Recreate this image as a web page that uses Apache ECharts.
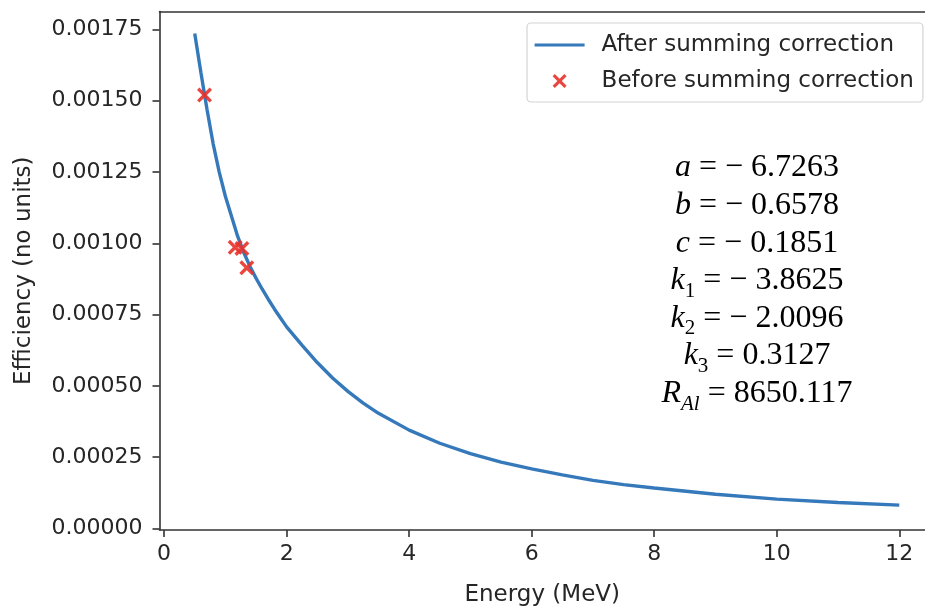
<!DOCTYPE html>
<html><head><meta charset="utf-8">
<script src="https://cdn.jsdelivr.net/npm/echarts@6/dist/echarts.min.js"></script>
<style>html,body{margin:0;padding:0;background:#fff}#c{width:925px;height:612px}</style>
</head><body><div id="c"></div>
<script>
// Fitted curve (after summing correction)
const fitEnergy = [0.5,0.6,0.7,0.8,0.9,1.0,1.1,1.2,1.3,1.4,1.5,1.6,1.7,1.8,1.9,2.0,2.25,2.5,2.75,3.0,3.25,3.5,4.0,4.5,5.0,5.5,6.0,6.5,7.0,7.5,8.0,9.0,10.0,11.0,12.0];
const fitEfficiency = [0.001736,0.001600,0.001470,0.001350,0.001250,0.001165,0.001095,0.001025,0.000968,0.000920,0.000878,0.000840,0.000804,0.000770,0.000738,0.000707,0.000643,0.000582,0.000528,0.000481,0.000440,0.000404,0.000345,0.000299,0.000263,0.000233,0.000209,0.000188,0.000169,0.000154,0.000142,0.000120,0.000103,0.000091,0.000082];
// Measured points (before summing correction)
const measEnergy = [0.66,1.16,1.27,1.35];
const measEfficiency = [0.00152,0.000986,0.000982,0.000914];
// Ticks
const xTicks = [0,2,4,6,8,10,12];
const yTicks = [0,0.00025,0.0005,0.00075,0.001,0.00125,0.0015,0.00175];
// Fit parameters text
const paramLines = [
  '{v|a}{n| = − 6.7263}',
  '{v|b}{n| = − 0.6578}',
  '{v|c}{n| = − 0.1851}',
  '{v|k}{s|1}{n| = − 3.8625}',
  '{v|k}{s|2}{n| = − 2.0096}',
  '{v|k}{s|3}{n| = 0.3127}',
  '{v|R}{si|Al}{n| = 8650.117}'
];
const seriesNames = ['After summing correction','Before summing correction'];

const chart = echarts.init(document.getElementById('c'), null, {renderer:'canvas'});
const fontSans = 'DejaVu Sans';
const axisColor = '#333';
const textColor = '#262626';
const lineColor = '#3579bb';
const crossPath = 'path://M0,1.6 L1.6,0 L5,3.4 L8.4,0 L10,1.6 L6.6,5 L10,8.4 L8.4,10 L5,6.6 L1.6,10 L0,8.4 L3.4,5 Z';

const richStyles = {
  v: {fontFamily:'Liberation Serif', fontStyle:'italic', fontSize:32, lineHeight:42, color:'#000'},
  n: {fontFamily:'Liberation Serif', fontSize:32, lineHeight:42, color:'#000'},
  s: {fontFamily:'Liberation Serif', fontSize:21, lineHeight:21, verticalAlign:'bottom', color:'#000'},
  si: {fontFamily:'Liberation Serif', fontStyle:'italic', fontSize:21, lineHeight:21, verticalAlign:'bottom', color:'#000'}
};
const graphics = paramLines.map((t,i)=>({
  type:'text', x:757, y:168 + i*37.6, z:10,
  style:{text:t, rich:richStyles, align:'center', verticalAlign:'middle', textAlign:'center', textVerticalAlign:'middle'}
}));

const xMin = -0.075, xMax = 12.42;
chart.setOption({
  backgroundColor:'#fff',
  animation:false,
  grid:{left:159.5, right:0, top:11.5, bottom:79.7, show:false, containLabel:false},
  legend:{
    left:527, top:23, orient:'vertical',
    data:[{name:seriesNames[0], itemStyle:{opacity:0}, lineStyle:{width:3.2, color:lineColor}}, {name:seriesNames[1]}],
    itemWidth:50, itemHeight:14, itemGap:12,
    padding:[10,9,9,6],
    borderColor:'#d4d4d4', borderWidth:1.2, borderRadius:4, backgroundColor:'#fff',
    textStyle:{fontFamily:fontSans, fontSize:23, color:textColor, lineHeight:24, padding:[0,0,0,12]}
  },
  xAxis:[{
    type:'value', min:xMin, max:xMax,
    name:'Energy (MeV)', nameLocation:'middle', nameGap:54,
    nameTextStyle:{fontFamily:fontSans, fontSize:23, color:textColor},
    axisLine:{show:true, onZero:false, lineStyle:{color:axisColor, width:1.6}},
    axisTick:{show:true, length:7, customValues:xTicks, lineStyle:{color:axisColor, width:1.6}},
    axisLabel:{customValues:xTicks, margin:13, fontFamily:fontSans, fontSize:22, color:textColor, formatter:v=>String(v)},
    splitLine:{show:false}
  },{
    type:'value', min:xMin, max:xMax, position:'top',
    axisLine:{show:true, onZero:false, lineStyle:{color:axisColor, width:1.6}},
    axisTick:{show:false}, axisLabel:{show:false}, splitLine:{show:false}
  }],
  yAxis:{
    type:'value', min:-0.0000052, max:0.001813,
    name:'Efficiency (no units)', nameLocation:'middle', nameGap:124, nameRotate:90,
    nameTextStyle:{fontFamily:fontSans, fontSize:23, color:textColor},
    axisLine:{show:true, onZero:false, lineStyle:{color:axisColor, width:1.6}},
    axisTick:{show:true, length:7, customValues:yTicks, lineStyle:{color:axisColor, width:1.6}},
    axisLabel:{customValues:yTicks, margin:17, fontFamily:fontSans, fontSize:22, color:textColor, formatter:v=>v.toFixed(5)},
    splitLine:{show:false}
  },
  series:[
    {
      name:seriesNames[0], type:'line', xAxisIndex:0,
      data:fitEnergy.map((x,i)=>[x,fitEfficiency[i]]),
      showSymbol:false, symbol:'none', smooth:false,
      lineStyle:{color:lineColor, width:3.4},
      itemStyle:{color:lineColor}, z:2
    },
    {
      name:seriesNames[1], type:'scatter', xAxisIndex:0,
      data:measEnergy.map((x,i)=>[x,measEfficiency[i]]),
      symbol:crossPath, symbolSize:15, symbolKeepAspect:true,
      itemStyle:{color:'#e8322b', opacity:0.9}, z:3
    }
  ],
  graphic:graphics
});
</script></body></html>
